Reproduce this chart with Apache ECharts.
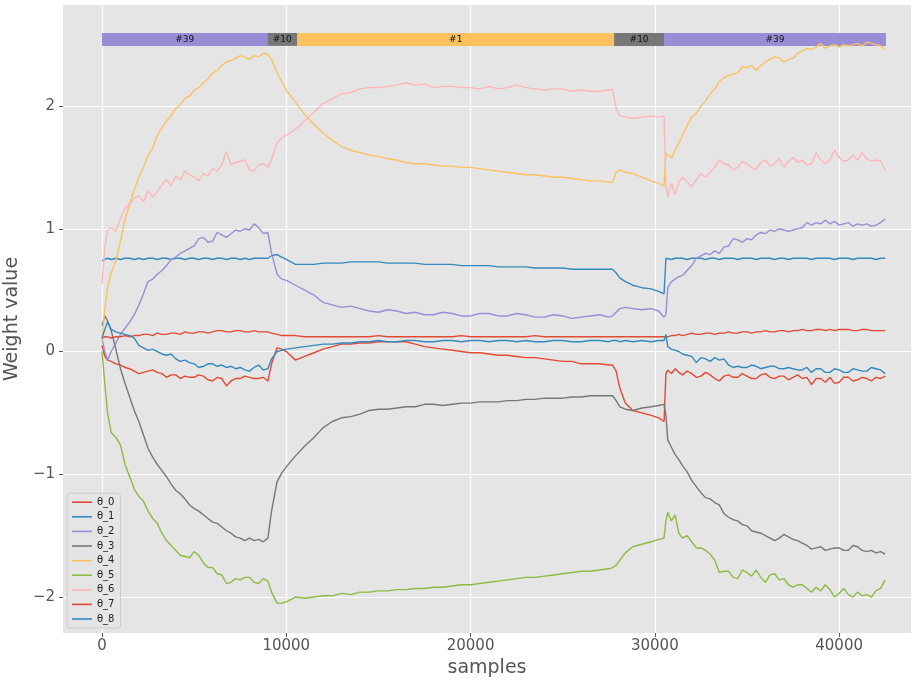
<!DOCTYPE html>
<html>
<head>
<meta charset="utf-8">
<script src="https://cdn.jsdelivr.net/npm/echarts@6/dist/echarts.min.js"></script>
<style>
html,body{margin:0;padding:0;background:#fff;}
#chart{width:912px;height:684px;}
</style>
</head>
<body>
<div id="chart"></div>
<script>
const samples = [0,150,300,500,750,1000,1250,1500,1750,2000,2250,2500,2750,3000,3250,3500,3750,4000,4250,4500,4750,5000,5250,5500,5750,6000,6250,6500,6750,7000,7250,7500,7750,8000,8250,8500,8750,9000,
 9200,9500,9750,10000,10500,11000,11500,12000,12500,13000,13500,14000,14500,15000,15500,16000,16500,17000,17500,18000,18500,19000,19500,20000,20500,21000,21500,22000,22500,23000,23500,24000,24500,25000,25500,26000,26500,27000,27500,27700,27900,28100,28400,28800,29300,29800,30200,30500,
 30600,30700,30900,31100,31300,31500,31750,32000,32250,32500,32750,33000,33250,33500,33750,34000,34250,34500,34750,35000,35250,35500,35750,36000,36250,36500,36750,37000,37250,37500,37750,38000,38250,38500,38750,39000,39250,39500,39750,40000,40250,40500,40750,41000,41250,41500,41750,42000,42250,42500];

const theta0 = [0.05,-0.04,-0.07,-0.08,-0.10,-0.11,-0.13,-0.14,-0.16,-0.18,-0.17,-0.16,-0.15,-0.17,-0.18,-0.21,-0.19,-0.19,-0.22,-0.20,-0.21,-0.21,-0.19,-0.20,-0.23,-0.24,-0.21,-0.22,-0.28,-0.24,-0.22,-0.22,-0.20,-0.21,-0.22,-0.22,-0.21,-0.24,
 -0.10,0.03,0.02,0.00,-0.07,-0.04,-0.01,0.02,0.04,0.06,0.06,0.07,0.07,0.08,0.08,0.08,0.08,0.06,0.04,0.03,0.02,0.01,0.00,-0.01,-0.01,-0.02,-0.03,-0.03,-0.04,-0.05,-0.05,-0.06,-0.07,-0.08,-0.08,-0.10,-0.10,-0.10,-0.11,-0.11,-0.16,-0.30,-0.42,-0.48,-0.50,-0.52,-0.54,-0.57,
 -0.18,-0.15,-0.18,-0.14,-0.17,-0.19,-0.16,-0.18,-0.21,-0.20,-0.17,-0.19,-0.22,-0.24,-0.20,-0.19,-0.21,-0.21,-0.18,-0.20,-0.22,-0.22,-0.19,-0.18,-0.21,-0.22,-0.20,-0.20,-0.23,-0.21,-0.19,-0.22,-0.21,-0.27,-0.22,-0.22,-0.25,-0.21,-0.26,-0.25,-0.21,-0.21,-0.24,-0.23,-0.21,-0.22,-0.24,-0.21,-0.22,-0.20];

const theta1 = [0.74,0.75,0.76,0.75,0.76,0.75,0.76,0.76,0.75,0.76,0.75,0.76,0.76,0.75,0.76,0.76,0.75,0.76,0.76,0.75,0.76,0.76,0.75,0.76,0.76,0.75,0.76,0.76,0.75,0.76,0.76,0.75,0.76,0.75,0.76,0.76,0.76,0.76,
 0.78,0.79,0.77,0.75,0.71,0.71,0.71,0.72,0.72,0.72,0.73,0.73,0.73,0.73,0.72,0.72,0.72,0.72,0.71,0.71,0.71,0.71,0.70,0.70,0.70,0.70,0.69,0.69,0.69,0.69,0.68,0.68,0.68,0.68,0.67,0.67,0.67,0.67,0.67,0.67,0.64,0.60,0.57,0.54,0.52,0.51,0.49,0.47,
 0.76,0.76,0.75,0.76,0.76,0.76,0.75,0.76,0.76,0.76,0.75,0.76,0.76,0.75,0.76,0.76,0.76,0.75,0.76,0.76,0.76,0.75,0.76,0.76,0.76,0.75,0.76,0.76,0.75,0.76,0.76,0.76,0.76,0.75,0.76,0.76,0.76,0.76,0.75,0.76,0.76,0.76,0.75,0.76,0.76,0.76,0.76,0.75,0.76,0.76];

const theta2 = [0.11,0.00,-0.07,0.00,0.07,0.14,0.19,0.24,0.30,0.38,0.47,0.57,0.59,0.63,0.66,0.70,0.75,0.77,0.80,0.82,0.84,0.86,0.92,0.93,0.89,0.90,0.97,0.95,0.93,0.96,0.99,0.98,1.00,0.99,1.04,1.01,0.96,0.97,
 0.80,0.63,0.59,0.58,0.54,0.50,0.46,0.40,0.38,0.36,0.37,0.35,0.33,0.32,0.34,0.33,0.31,0.32,0.30,0.30,0.32,0.31,0.29,0.29,0.31,0.31,0.29,0.29,0.31,0.30,0.28,0.28,0.30,0.29,0.27,0.28,0.29,0.30,0.28,0.29,0.32,0.35,0.36,0.35,0.34,0.35,0.33,0.28,
 0.30,0.52,0.57,0.59,0.61,0.62,0.66,0.70,0.76,0.78,0.80,0.79,0.82,0.80,0.85,0.86,0.92,0.91,0.89,0.92,0.91,0.95,0.97,0.96,0.99,0.98,1.00,0.99,0.98,0.99,1.00,1.01,1.05,1.03,1.05,1.04,1.07,1.04,1.06,1.03,1.04,1.05,1.02,1.04,1.03,1.04,1.02,1.03,1.05,1.08];

const theta3 = [0.21,0.29,0.25,0.17,0.02,-0.14,-0.26,-0.37,-0.48,-0.57,-0.68,-0.79,-0.86,-0.92,-0.97,-1.02,-1.08,-1.13,-1.16,-1.20,-1.25,-1.28,-1.30,-1.33,-1.36,-1.39,-1.40,-1.43,-1.46,-1.48,-1.51,-1.52,-1.54,-1.52,-1.54,-1.53,-1.55,-1.52,
 -1.30,-1.06,-0.99,-0.94,-0.85,-0.77,-0.70,-0.62,-0.57,-0.54,-0.53,-0.51,-0.48,-0.47,-0.47,-0.46,-0.45,-0.45,-0.43,-0.43,-0.44,-0.43,-0.42,-0.42,-0.41,-0.41,-0.41,-0.40,-0.40,-0.39,-0.39,-0.38,-0.38,-0.38,-0.37,-0.37,-0.36,-0.36,-0.36,-0.36,-0.40,-0.45,-0.47,-0.48,-0.46,-0.45,-0.44,-0.43,
 -0.52,-0.72,-0.78,-0.84,-0.88,-0.93,-0.98,-1.05,-1.10,-1.15,-1.19,-1.20,-1.23,-1.25,-1.32,-1.35,-1.37,-1.38,-1.41,-1.42,-1.46,-1.47,-1.48,-1.50,-1.52,-1.54,-1.52,-1.49,-1.51,-1.53,-1.54,-1.56,-1.58,-1.61,-1.60,-1.59,-1.62,-1.61,-1.60,-1.60,-1.62,-1.62,-1.58,-1.59,-1.62,-1.63,-1.62,-1.64,-1.63,-1.65];

const theta4 = [0.08,0.35,0.52,0.64,0.74,0.90,1.08,1.20,1.32,1.42,1.50,1.60,1.66,1.76,1.82,1.88,1.92,1.98,2.01,2.06,2.08,2.13,2.15,2.19,2.22,2.27,2.29,2.33,2.36,2.37,2.39,2.41,2.40,2.38,2.41,2.40,2.43,2.42,
 2.38,2.27,2.20,2.13,2.03,1.93,1.85,1.78,1.72,1.67,1.64,1.62,1.60,1.59,1.57,1.56,1.54,1.53,1.53,1.52,1.51,1.51,1.50,1.50,1.49,1.48,1.47,1.46,1.45,1.44,1.44,1.43,1.42,1.42,1.41,1.40,1.39,1.39,1.38,1.38,1.46,1.48,1.46,1.45,1.42,1.39,1.37,1.35,
 1.62,1.60,1.58,1.64,1.70,1.76,1.84,1.91,1.94,2.00,2.04,2.10,2.14,2.20,2.23,2.25,2.26,2.27,2.32,2.31,2.33,2.29,2.33,2.36,2.38,2.40,2.39,2.36,2.38,2.39,2.43,2.45,2.47,2.46,2.48,2.51,2.47,2.49,2.50,2.48,2.50,2.49,2.50,2.51,2.49,2.52,2.51,2.50,2.49,2.46];

const theta5 = [0.00,-0.26,-0.50,-0.66,-0.70,-0.76,-0.92,-1.02,-1.12,-1.18,-1.22,-1.30,-1.36,-1.40,-1.48,-1.54,-1.58,-1.62,-1.66,-1.67,-1.68,-1.63,-1.66,-1.72,-1.76,-1.76,-1.81,-1.82,-1.89,-1.88,-1.85,-1.86,-1.84,-1.84,-1.88,-1.89,-1.85,-1.87,
 -1.96,-2.05,-2.05,-2.04,-2.00,-2.01,-2.00,-1.99,-1.99,-1.97,-1.98,-1.96,-1.96,-1.95,-1.95,-1.94,-1.94,-1.93,-1.93,-1.92,-1.92,-1.91,-1.90,-1.90,-1.89,-1.88,-1.87,-1.86,-1.85,-1.84,-1.84,-1.83,-1.82,-1.81,-1.80,-1.79,-1.79,-1.78,-1.77,-1.76,-1.74,-1.70,-1.64,-1.59,-1.57,-1.55,-1.53,-1.52,
 -1.38,-1.31,-1.38,-1.33,-1.48,-1.52,-1.50,-1.55,-1.60,-1.60,-1.62,-1.65,-1.70,-1.80,-1.79,-1.79,-1.84,-1.85,-1.78,-1.80,-1.83,-1.78,-1.84,-1.88,-1.82,-1.81,-1.86,-1.85,-1.90,-1.92,-1.90,-1.90,-1.93,-1.96,-1.92,-1.95,-1.90,-1.94,-2.00,-1.97,-1.93,-1.98,-2.00,-1.96,-1.99,-1.98,-2.00,-1.95,-1.93,-1.86];

const theta6 = [0.55,0.85,0.99,1.01,0.98,1.08,1.17,1.20,1.25,1.27,1.22,1.31,1.26,1.30,1.36,1.40,1.35,1.43,1.40,1.47,1.44,1.42,1.39,1.45,1.43,1.49,1.47,1.52,1.63,1.52,1.54,1.55,1.56,1.48,1.47,1.52,1.53,1.50,
 1.56,1.70,1.74,1.76,1.81,1.88,1.95,2.02,2.06,2.10,2.11,2.14,2.15,2.15,2.16,2.17,2.19,2.17,2.18,2.15,2.16,2.16,2.15,2.15,2.14,2.16,2.14,2.15,2.17,2.15,2.14,2.13,2.14,2.14,2.12,2.13,2.12,2.12,2.13,2.14,1.98,1.92,1.91,1.90,1.91,1.92,1.91,1.92,
 1.35,1.26,1.37,1.28,1.38,1.42,1.38,1.34,1.40,1.45,1.42,1.46,1.50,1.56,1.53,1.52,1.48,1.50,1.55,1.53,1.50,1.48,1.54,1.56,1.51,1.53,1.57,1.50,1.55,1.58,1.54,1.56,1.52,1.53,1.62,1.56,1.53,1.56,1.64,1.58,1.55,1.56,1.60,1.56,1.62,1.57,1.55,1.56,1.55,1.48];

const theta7 = [0.11,0.12,0.12,0.11,0.12,0.12,0.13,0.12,0.13,0.13,0.14,0.14,0.13,0.15,0.14,0.14,0.15,0.15,0.14,0.16,0.15,0.15,0.16,0.16,0.15,0.16,0.17,0.17,0.16,0.16,0.17,0.17,0.16,0.16,0.17,0.16,0.16,0.16,
 0.15,0.14,0.13,0.13,0.13,0.12,0.12,0.12,0.12,0.12,0.12,0.12,0.12,0.13,0.12,0.12,0.12,0.12,0.12,0.12,0.12,0.12,0.13,0.12,0.12,0.12,0.12,0.12,0.12,0.12,0.13,0.12,0.12,0.12,0.12,0.12,0.12,0.12,0.12,0.12,0.12,0.12,0.12,0.12,0.12,0.12,0.12,0.12,
 0.12,0.12,0.13,0.13,0.14,0.13,0.14,0.15,0.14,0.14,0.15,0.15,0.14,0.15,0.15,0.16,0.15,0.15,0.16,0.16,0.15,0.16,0.16,0.17,0.16,0.16,0.17,0.17,0.16,0.17,0.17,0.18,0.17,0.17,0.18,0.18,0.17,0.18,0.17,0.18,0.18,0.18,0.17,0.17,0.18,0.18,0.17,0.17,0.17,0.17];

const theta8 = [0.11,0.18,0.24,0.18,0.16,0.15,0.14,0.13,0.11,0.05,0.03,0.01,0.02,0.00,-0.02,-0.03,-0.02,-0.06,-0.08,-0.07,-0.09,-0.10,-0.13,-0.12,-0.10,-0.10,-0.12,-0.11,-0.13,-0.12,-0.14,-0.13,-0.15,-0.16,-0.13,-0.11,-0.15,-0.14,
 -0.06,0.00,0.01,0.02,0.03,0.04,0.05,0.06,0.06,0.07,0.07,0.08,0.08,0.09,0.08,0.08,0.09,0.09,0.08,0.08,0.09,0.09,0.08,0.09,0.09,0.08,0.09,0.09,0.08,0.09,0.08,0.08,0.09,0.09,0.08,0.08,0.09,0.09,0.08,0.09,0.09,0.08,0.09,0.08,0.09,0.08,0.09,0.09,
 0.14,0.04,0.02,0.01,0.00,-0.02,-0.03,-0.04,-0.09,-0.05,-0.06,-0.08,-0.05,-0.07,-0.06,-0.11,-0.13,-0.12,-0.13,-0.13,-0.11,-0.12,-0.14,-0.13,-0.12,-0.12,-0.14,-0.14,-0.13,-0.14,-0.15,-0.15,-0.13,-0.17,-0.14,-0.14,-0.17,-0.17,-0.14,-0.15,-0.17,-0.17,-0.14,-0.15,-0.16,-0.16,-0.13,-0.14,-0.15,-0.18];

const seriesNames = ['θ_0','θ_1','θ_2','θ_3','θ_4','θ_5','θ_6','θ_7','θ_8'];
const seriesValues = [theta0,theta1,theta2,theta3,theta4,theta5,theta6,theta7,theta8];

// phase band along the top
const phaseLabels = ['#39','#10','#1','#10','#39'];
const phaseStart = [0, 8970, 10600, 27790, 30500];
const phaseEnd = [8970, 10600, 27790, 30500, 42540];
const bandBottom = 2.49;
const bandTop = 2.595;

const xTicks = [0, 10000, 20000, 30000, 40000];
const yTicks = [-2, -1, 0, 1, 2];

const colors = ['#E24A33','#348ABD','#988ED5','#777777','#FBC15E','#8EBA42','#FFB5B8','#E24A33','#348ABD'];
const phaseColor = {'#39':'#988ED5','#10':'#777777','#1':'#FBC15E'};

const chart = echarts.init(document.getElementById('chart'));
const font = 'DejaVu Sans';

const lineSeries = seriesNames.map((name, k) => ({
  name: name,
  type: 'line',
  data: samples.map((x, i) => [x, seriesValues[k][i]]),
  symbol: 'none',
  showSymbol: false,
  lineStyle: {width: 1.4, color: colors[k]},
  itemStyle: {color: colors[k]},
  z: 3,
  animation: false
}));

const bandSeries = {
  type: 'custom',
  z: 2,
  silent: true,
  animation: false,
  data: phaseLabels.map((l, i) => [phaseStart[i], phaseEnd[i], bandBottom, bandTop]),
  encode: {x: [0, 1], y: [2, 3]},
  renderItem: function (params, api) {
    const p0 = api.coord([api.value(0), api.value(3)]);
    const p1 = api.coord([api.value(1), api.value(2)]);
    const label = phaseLabels[params.dataIndex];
    return {
      type: 'group',
      children: [
        {type: 'rect', shape: {x: p0[0], y: p0[1], width: p1[0] - p0[0], height: p1[1] - p0[1]},
         style: {fill: phaseColor[label]}},
        {type: 'text', style: {text: label, x: (p0[0] + p1[0]) / 2, y: (p0[1] + p1[1]) / 2,
          align: 'center', verticalAlign: 'middle', font: '9px "DejaVu Sans"', fill: '#111'}}
      ]
    };
  }
};

const minus = v => String(v).replace('-', '\u2212');

chart.setOption({
  animation: false,
  backgroundColor: '#ffffff',
  grid: {left: 63, right: 1, top: 5, bottom: 51, show: true, backgroundColor: '#E5E5E5', borderWidth: 0,
         containLabel: false, outerBoundsMode: 'none'},
  legend: {
    orient: 'vertical',
    left: 67, bottom: 56,
    data: seriesNames.map(n => ({name: n, icon: 'rect'})),
    itemWidth: 20, itemHeight: 1.6, itemGap: 4.6,
    padding: [4, 6, 4, 5],
    backgroundColor: '#E5E5E5',
    borderColor: '#CCCCCC', borderWidth: 1, borderRadius: 3,
    textStyle: {fontFamily: font, fontSize: 10, color: '#222', lineHeight: 10}
  },
  xAxis: {
    type: 'value', min: -2117, max: 43900,
    name: 'samples', nameLocation: 'middle', nameGap: 24,
    nameTextStyle: {fontFamily: font, fontSize: 19, color: '#555555'},
    axisLine: {show: false, onZero: false},
    axisTick: {show: true, customValues: xTicks, length: 4, lineStyle: {color: '#555555'}},
    axisLabel: {customValues: xTicks, fontFamily: font, fontSize: 15, color: '#555555', margin: 6,
                formatter: v => String(v)},
    splitLine: {show: true, lineStyle: {color: '#ffffff', width: 1.2}}
  },
  yAxis: {
    type: 'value', min: -2.293, max: 2.823,
    name: 'Weight value', nameLocation: 'middle', nameGap: 33, nameRotate: 90,
    nameTextStyle: {fontFamily: font, fontSize: 19, color: '#555555'},
    axisLine: {show: false, onZero: false},
    axisTick: {show: true, customValues: yTicks, length: 4, lineStyle: {color: '#555555'}},
    axisLabel: {customValues: yTicks, fontFamily: font, fontSize: 15, color: '#555555', margin: 8, formatter: minus},
    splitLine: {show: true, lineStyle: {color: '#ffffff', width: 1.2}}
  },
  series: [bandSeries].concat(lineSeries)
});
</script>
</body>
</html>
